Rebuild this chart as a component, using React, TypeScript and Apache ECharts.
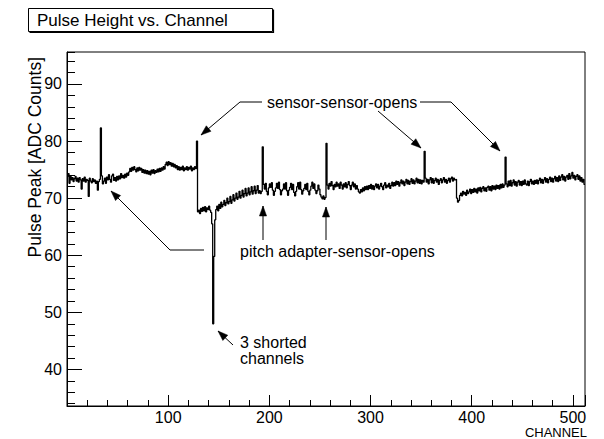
import React, { useEffect, useRef } from "react";
import * as echarts from "echarts";

// Pulse peak per channel (ADC counts), channels 0..511
const chan000to127 = [
  73.8, 74.3, 72.6, 73.9, 73.2, 73.6, 72.9, 73.4, 73.8, 73.0,
  73.5, 72.8, 73.6, 73.2, 71.6, 73.4, 73.0, 73.7, 72.8, 73.3,
  73.1, 70.3, 73.5, 73.0, 72.7, 73.4, 72.9, 73.2, 72.6, 73.0,
  71.4, 72.9, 73.3, 82.3, 73.9, 72.5, 73.0, 73.5, 72.6, 73.7,
  73.2, 74.1, 73.3, 72.8, 73.9, 74.2, 73.1, 73.6, 73.0, 73.8,
  73.2, 73.9, 73.4, 74.3, 73.6, 74.0, 73.5, 74.2, 73.7, 74.4,
  74.0, 74.6, 75.2, 74.7, 75.4, 74.9, 75.5, 75.0, 74.6, 75.3,
  74.8, 75.4, 74.9, 75.2, 74.5, 75.0, 74.4, 74.9, 74.3, 74.8,
  74.2, 74.7, 74.1, 74.9, 74.4, 75.0, 74.3, 74.8, 74.5, 75.1,
  74.6, 75.2, 74.7, 75.3, 74.9, 75.5, 75.1, 75.9, 76.3, 75.7,
  76.4, 75.9, 76.2, 75.6, 76.1, 75.5, 75.9, 75.3, 75.7, 75.0,
  75.5, 74.9, 75.4, 75.0, 75.6, 74.8, 75.3, 75.0, 75.5, 74.9,
  75.4, 75.1, 75.6, 74.8, 75.3, 75.0, 75.5, 75.2,
];

const chan128to255 = [
  80.0,
  67.6, 67.9, 67.3, 68.2, 67.7, 68.4, 67.8, 68.5, 67.6, 68.3, 68.0, 68.6, 67.9, 67.5,
  65.5, 48.0, 59.8, 66.2,
  68.0, 68.6, 67.8, 68.9, 68.2, 69.3, 68.5, 68.9, 69.6, 68.7,
  69.2, 70.0, 69.0, 69.4, 70.3, 69.1, 69.7, 70.6, 69.5, 70.0,
  70.9, 69.8, 70.2, 71.2, 70.0, 70.5, 71.4, 70.2, 70.8, 71.7,
  70.4, 70.9, 71.8, 70.6, 71.1, 72.0, 70.7, 71.3, 72.1, 70.8,
  71.4, 72.2, 70.9, 71.3, 70.8,
  71.2, 79.0,
  72.4, 71.6, 72.6, 71.2, 70.6, 71.8, 72.5, 71.9, 72.7, 71.4,
  70.5, 71.2, 71.8, 72.6, 71.7, 72.8, 71.5, 70.6, 71.3, 71.6,
  72.5, 71.6, 72.7, 71.3, 70.5, 71.4, 71.9, 72.6, 71.5, 72.4,
  71.0, 70.4, 71.2, 72.0, 72.7, 71.6, 72.8, 71.5, 70.7, 71.3,
  71.7, 72.4, 71.5, 72.6, 71.2, 70.6, 71.4, 72.1, 72.8, 71.7,
  72.5, 71.4, 70.8, 71.3, 72.3, 71.6, 70.6, 70.2, 69.9, 70.4,
  69.8, 70.1,
];

const chan256to383 = [
  79.6,
  72.3, 71.6, 72.6, 72.1, 72.9, 72.2, 71.5, 72.4, 72.0, 72.8,
  72.1, 72.5, 71.7, 72.8, 72.3, 71.6, 72.5, 72.0, 72.7, 71.8,
  72.4, 72.9, 72.2, 71.5, 72.3, 72.8, 72.0, 72.5, 71.6, 72.2,
  71.6, 71.1, 70.9, 71.5, 71.1, 71.8, 71.3, 72.0, 71.5, 72.1,
  71.5, 72.2, 71.7, 72.4, 71.6, 72.2, 71.5, 72.1, 72.5, 71.8,
  72.4, 71.6, 72.1, 72.6, 72.0, 71.5, 72.3, 72.7, 71.8, 72.3,
  72.0, 72.6, 71.7, 72.2, 72.8, 72.1, 72.7, 72.2, 73.0, 72.4,
  72.9, 72.1, 72.7, 73.2, 72.5, 73.0, 72.2, 72.8, 73.3, 72.5,
  73.1, 72.4, 72.9, 73.4, 72.6, 73.2, 72.5, 73.0, 73.5, 72.7,
  73.3, 72.6, 73.2, 72.5, 73.1, 72.8,
  78.2,
  73.5, 72.8, 73.3, 72.5, 73.2, 73.6, 72.7, 73.4, 72.6, 73.1,
  73.5, 72.8, 73.3, 72.4, 73.1, 73.4, 72.7, 73.2, 73.6, 72.8,
  73.3, 72.6, 73.1, 73.5, 72.8, 73.4, 73.7, 73.0, 73.5, 73.2,
];

const chan384to511 = [
  73.3, 70.0, 69.3, 69.6, 70.5, 70.9, 70.4, 71.2, 70.7, 71.0,
  70.5, 71.4, 70.8, 71.1, 71.6, 70.8, 71.5, 71.0, 71.7, 71.1,
  71.6, 70.9, 71.8, 71.3, 71.9, 71.1, 71.7, 72.0, 71.3, 71.8,
  71.2, 71.9, 72.1, 71.4, 72.0, 71.3, 72.2, 71.6, 72.1, 71.5,
  72.3, 71.7, 72.2, 71.6, 72.4, 71.8, 72.5, 71.9, 72.3,
  77.2,
  72.5, 72.0, 73.0, 72.2, 73.1, 72.1, 72.7, 73.2, 72.3, 72.9,
  72.1, 72.8, 73.1, 72.3, 72.9, 72.2, 73.0, 72.4, 73.2, 72.5,
  72.3, 73.0, 72.2, 72.9, 73.3, 72.5, 73.0, 72.4, 73.1, 72.6,
  73.2, 72.5, 73.1, 73.5, 72.7, 73.3, 72.6, 73.2, 73.6, 72.8,
  73.4, 72.7, 73.3, 73.7, 72.9, 73.5, 72.8, 73.4, 73.8, 73.0,
  73.6, 72.9, 73.9, 73.1, 73.7, 74.1, 73.2, 73.8, 73.0, 73.7,
  74.0, 73.3, 74.3, 73.4, 73.9, 74.5, 73.5, 74.0, 73.2, 73.8,
  74.1, 73.3, 73.9, 73.0, 73.6, 72.8, 73.3, 72.4,
];

const xRange = [0, 512];
const yRange = [33.6, 95.6];
const xMajorStep = 100;
const xMinorStep = 20;

const titleText = "Pulse Height vs. Channel";
const yTitle = "Pulse Peak [ADC Counts]";
const xTitle = "CHANNEL";

const FONT = '"Liberation Sans", Arial, Helvetica, sans-serif';

type Pt = [number, number];

function arrowHead(a: Pt, b: Pt, L = 10, W = 3.6): Pt[] {
  const dx = b[0] - a[0];
  const dy = b[1] - a[1];
  const len = Math.hypot(dx, dy);
  const ux = dx / len;
  const uy = dy / len;
  const bx = b[0] - ux * L;
  const by = b[1] - uy * L;
  return [
    [b[0], b[1]],
    [bx - uy * W, by + ux * W],
    [bx + uy * W, by - ux * W],
  ];
}

const leaders: Pt[][] = [
  [[262, 102], [240, 102], [201, 135]],
  [[378, 111], [421, 148]],
  [[420, 102], [451, 102], [500, 151]],
  [[263, 240], [263, 206]],
  [[326, 240], [326, 207]],
  [[204, 250], [170, 250], [111, 191]],
  [[233, 345], [218, 331]],
];

const notes = [
  { text: "sensor-sensor-opens", x: 267, y: 102 },
  { text: "pitch adapter-sensor-opens", x: 240, y: 251 },
  { text: "3 shorted", x: 240, y: 342 },
  { text: "channels", x: 240, y: 358 },
];

export default function App() {
  const ref = useRef<HTMLDivElement>(null);

  useEffect(() => {
    if (!ref.current) return;
    const chart = echarts.init(ref.current, undefined, { renderer: "svg" });

    const values = [...chan000to127, ...chan128to255, ...chan256to383, ...chan384to511];
    const data: Pt[] = values.map((v, i) => [i, v]);
    data.push([values.length, values[values.length - 1]]);

    const isMult = (v: number, s: number) => Math.abs(v / s - Math.round(v / s)) < 1e-6;

    const graphic: any[] = [];
    // title box
    graphic.push({
      type: "polyline",
      shape: { points: [[273.5, 9.5], [273.5, 32.5], [29.5, 32.5]] },
      style: { stroke: "#000", lineWidth: 1.2, fill: null },
    });
    graphic.push({
      type: "rect",
      shape: { x: 28.5, y: 8.5, width: 244, height: 23 },
      style: { fill: "#fff", stroke: "#000", lineWidth: 1 },
    });
    graphic.push({
      type: "text",
      x: 37,
      y: 20,
      style: {
        text: titleText,
        font: `17px ${FONT}`,
        fill: "#000",
        textAlign: "left",
        textVerticalAlign: "middle",
      },
    });
    // y axis title
    graphic.push({
      type: "text",
      x: 35,
      y: 57,
      rotation: Math.PI / 2,
      style: {
        text: yTitle,
        font: `17.5px ${FONT}`,
        fill: "#000",
        textAlign: "right",
        textVerticalAlign: "middle",
      },
    });
    // x axis title
    graphic.push({
      type: "text",
      x: 587,
      y: 432,
      style: {
        text: xTitle,
        font: `13px ${FONT}`,
        fill: "#000",
        textAlign: "right",
        textVerticalAlign: "middle",
      },
    });
    // annotations
    leaders.forEach((pts) => {
      graphic.push({
        type: "polyline",
        shape: { points: pts },
        style: { stroke: "#000", lineWidth: 1, fill: null },
      });
      const n = pts.length;
      graphic.push({
        type: "polygon",
        shape: { points: arrowHead(pts[n - 2], pts[n - 1]) },
        style: { fill: "#000", stroke: "#000", lineWidth: 0.5 },
      });
    });
    notes.forEach((n) => {
      graphic.push({
        type: "text",
        x: n.x,
        y: n.y,
        style: {
          text: n.text,
          font: `16px ${FONT}`,
          fill: "#000",
          textAlign: "left",
          textVerticalAlign: "middle",
        },
      });
    });

    const axisLabelStyle = { color: "#000", fontSize: 16, fontFamily: FONT };

    chart.setOption({
      animation: false,
      backgroundColor: "#fff",
      grid: {
        left: 67,
        right: 19,
        top: 52,
        bottom: 33,
        show: true,
        borderColor: "#000",
        borderWidth: 1,
        backgroundColor: "transparent",
      },
      xAxis: [
        {
          type: "value",
          min: xRange[0],
          max: xRange[1],
          interval: xMajorStep,
          axisLine: { show: true, lineStyle: { color: "#000", width: 1 } },
          axisTick: { show: true, inside: true, length: 11, lineStyle: { color: "#000" } },
          axisLabel: {
            ...axisLabelStyle,
            margin: 3,
            formatter: (v: number) => (v > 0 && isMult(v, xMajorStep) ? String(v) : ""),
          },
          splitLine: { show: false },
        },
        {
          type: "value",
          min: xRange[0],
          max: xRange[1],
          interval: xMinorStep,
          position: "bottom",
          axisLine: { show: false },
          axisTick: { show: true, inside: true, length: 6, lineStyle: { color: "#000" } },
          axisLabel: { show: false },
          splitLine: { show: false },
        },
      ],
      yAxis: [
        {
          type: "value",
          min: yRange[0],
          max: yRange[1],
          splitNumber: 6,
          axisLine: { show: true, lineStyle: { color: "#000", width: 1 } },
          axisTick: { show: true, inside: true, length: 15, lineStyle: { color: "#000" } },
          axisLabel: {
            ...axisLabelStyle,
            margin: 5,
            showMinLabel: false,
            showMaxLabel: false,
            formatter: (v: number) => (isMult(v, 10) ? String(Math.round(v)) : ""),
          },
          splitLine: { show: false },
        },
        {
          type: "value",
          min: yRange[0],
          max: yRange[1],
          splitNumber: 31,
          position: "left",
          axisLine: { show: false },
          axisTick: { show: true, inside: true, length: 8, lineStyle: { color: "#000" } },
          axisLabel: { show: false },
          splitLine: { show: false },
        },
      ],
      series: [
        {
          type: "line",
          xAxisIndex: 0,
          yAxisIndex: 0,
          step: "end",
          data,
          showSymbol: false,
          symbol: "none",
          lineStyle: { color: "#000", width: 1.3 },
          clip: true,
          z: 3,
        },
      ],
      graphic,
    });

    return () => chart.dispose();
  }, []);

  return (
    <div
      ref={ref}
      style={{ position: "fixed", left: 0, top: 0, width: 604, height: 439, background: "#fff" }}
    />
  );
}
